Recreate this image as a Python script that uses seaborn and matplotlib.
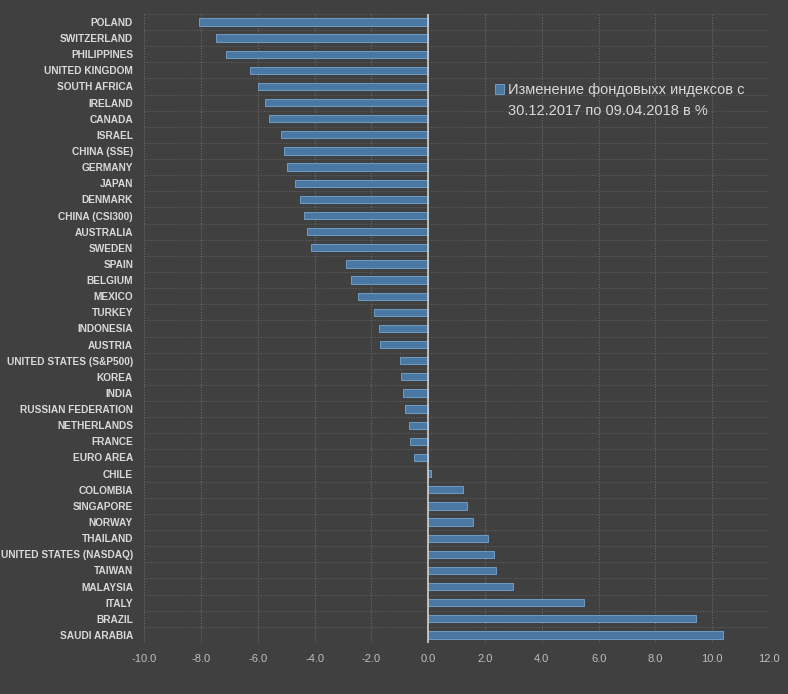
import pandas as pd
import seaborn as sns
import matplotlib.pyplot as plt
from matplotlib.ticker import MultipleLocator, FixedLocator

countries = [
    "POLAND", "SWITZERLAND", "PHILIPPINES", "UNITED KINGDOM", "SOUTH AFRICA",
    "IRELAND", "CANADA", "ISRAEL", "CHINA (SSE)", "GERMANY", "JAPAN", "DENMARK",
    "CHINA (CSI300)", "AUSTRALIA", "SWEDEN", "SPAIN", "BELGIUM", "MEXICO",
    "TURKEY", "INDONESIA", "AUSTRIA", "UNITED STATES (S&P500)", "KOREA", "INDIA",
    "RUSSIAN FEDERATION", "NETHERLANDS", "FRANCE", "EURO AREA", "CHILE",
    "COLOMBIA", "SINGAPORE", "NORWAY", "THAILAND", "UNITED STATES (NASDAQ)",
    "TAIWAN", "MALAYSIA", "ITALY", "BRAZIL", "SAUDI ARABIA",
]
change = [
    -8.07, -7.48, -7.13, -6.26, -5.99,
    -5.73, -5.59, -5.20, -5.09, -4.99, -4.68, -4.50,
    -4.36, -4.26, -4.12, -2.89, -2.71, -2.47,
    -1.91, -1.73, -1.70, -0.99, -0.96, -0.89,
    -0.82, -0.68, -0.64, -0.50, 0.08,
    1.24, 1.38, 1.56, 2.12, 2.33,
    2.37, 3.00, 5.47, 9.44, 10.36,
]
legend_line1 = "Изменение фондовыхх индексов с"
legend_line2 = "30.12.2017 по 09.04.2018 в %"

df = pd.DataFrame({"country": countries, "change": change})

bg = "#404040"
sns.set_style("dark", {"axes.facecolor": bg, "figure.facecolor": bg})
plt.rcParams["font.family"] = ["Liberation Sans", "DejaVu Sans"]

fig = plt.figure(figsize=(7.88, 6.94), dpi=100)
ax = fig.add_axes([0.183, 0.0735, 0.793, 0.9065])

sns.barplot(data=df, y="country", x="change", orient="h", color="#4a78a2",
            saturation=1, width=0.45, edgecolor="#6f9cc4", linewidth=0.7,
            label=legend_line1, ax=ax)

n = len(countries)
ax.set_xlim(-10, 12)
ax.set_ylim(n - 0.5, -0.5)
ax.xaxis.set_major_locator(MultipleLocator(2))
ax.set_xticklabels([f"{v:.1f}" for v in ax.get_xticks()])
ax.yaxis.set_minor_locator(FixedLocator([i - 0.5 for i in range(n + 1)]))

ax.grid(axis="x", which="major", color="#6a6a6a", linestyle=(0, (1, 1.5)), linewidth=0.8)
ax.grid(axis="y", which="minor", color="#5e5e5e", linestyle=(0, (1, 1.5)), linewidth=0.8)
ax.grid(axis="y", which="major", visible=False)
ax.axvline(0, color="#d0d0d0", linewidth=1.2, zorder=3)

for s in ax.spines.values():
    s.set_visible(False)

ax.tick_params(axis="both", which="both", length=0)
ax.tick_params(axis="y", labelsize=7.25, labelcolor="#d9d9d9", pad=8)
ax.tick_params(axis="x", labelsize=8, labelcolor="#bfbfbf", pad=8)
for t in ax.get_yticklabels():
    t.set_fontweight("bold")
ax.set_xlabel("")
ax.set_ylabel("")

leg = ax.legend(loc="center left", bbox_to_anchor=(0.628, 0.8703), bbox_transform=fig.transFigure,
                frameon=False, fontsize=10.5, handlelength=0.62, handleheight=0.62,
                handletextpad=0.27, borderpad=0, borderaxespad=0)
for t in leg.get_texts():
    t.set_color("#d9d9d9")
fig.text(0.6447, 0.840, legend_line2, fontsize=10.5, color="#d9d9d9", va="center", ha="left")

fig.savefig("out.png", dpi=100, facecolor=bg)
